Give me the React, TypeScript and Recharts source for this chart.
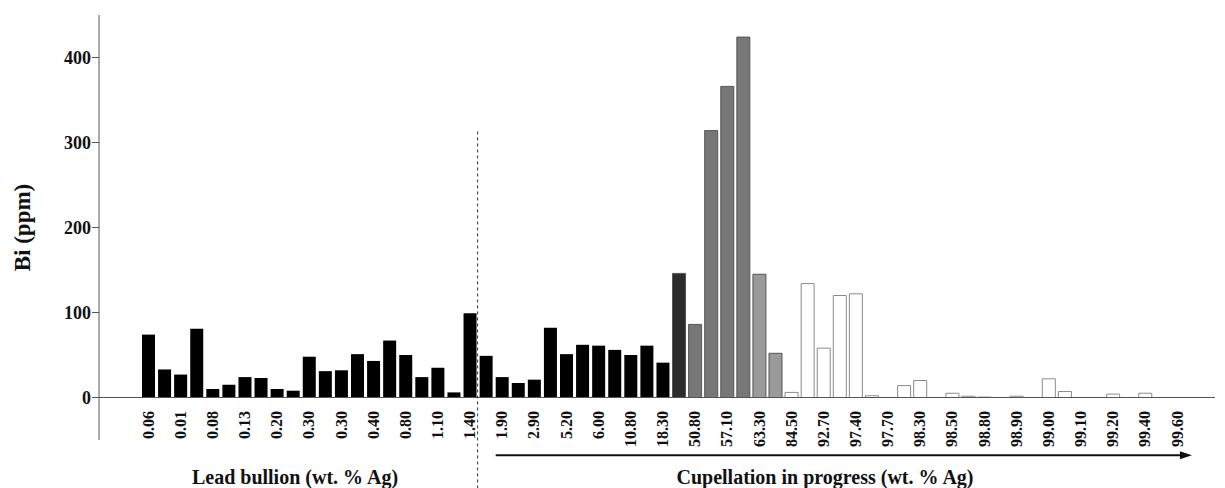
import { Bar, BarChart, Cell, Label, ReferenceLine, XAxis, YAxis } from 'recharts';

// Bi (ppm) per sample, in sample order
const bi = [
  74, 33, 27, 81, 10, 15, 24, 23, 10, 8, 48, 31, 32, 51, 43, 67, 50, 24, 35, 6,
  99, 49, 24, 17, 21, 82, 51, 62, 61, 56, 50, 61, 41, 146, 86, 314, 366, 424, 145, 52,
  6, 134, 58, 120, 122, 2, 0, 14, 20, 0, 5, 1.5, 0.5, 0, 1.5, 0, 22, 7, 0, 0,
  4, 0, 5, 0, 0,
];

// Ag (wt. %) labels, shown on every other sample
const agLabels = [
  '0.06', '0.01', '0.08', '0.13', '0.20', '0.30', '0.30', '0.40', '0.80', '1.10', '1.40',
  '1.90', '2.90', '5.20', '6.00', '10.80', '18.30', '50.80', '57.10', '63.30', '84.50',
  '92.70', '97.40', '97.70', '98.30', '98.50', '98.80', '98.90', '99.00', '99.10', '99.20',
  '99.40', '99.60',
];

const yTicks = [0, 100, 200, 300, 400];

const data = bi.map((v, i) => ({ idx: i, bi: v }));

const FONT = '"Liberation Serif", "DejaVu Serif", serif';

function barFill(i: number) {
  if (i < 33) return '#000000';
  if (i === 33) return '#2c2c2c';
  if (i < 38) return '#777777';
  if (i < 40) return '#9a9a9a';
  return '#ffffff';
}

function barStroke(i: number) {
  if (i < 33) return 'none';
  if (i < 40) return '#555555';
  return '#8a8a8a';
}

function AgTick({ x, y, payload }: any) {
  const label = agLabels[payload.value / 2] ?? '';
  return (
    <text
      transform={`translate(${x},${y - 29}) rotate(-90)`}
      textAnchor="end"
      dy="0.35em"
      fontFamily={FONT}
      fontWeight="bold"
      fontSize={16}
      fill="#111"
    >
      {label}
    </text>
  );
}

function Arrow({ x1, y1, x2 }: any) {
  const end = x2 + 23;
  return (
    <g>
      <line x1={x1 + 2} y1={y1} x2={end - 8} y2={y1} stroke="#111" strokeWidth={2} />
      <polygon points={`${end},${y1} ${end - 12},${y1 - 4} ${end - 12},${y1 + 4}`} fill="#111" />
    </g>
  );
}

const titleStyle: React.CSSProperties = {
  position: 'absolute',
  top: 466,
  transform: 'translateX(-50%)',
  fontFamily: FONT,
  fontWeight: 'bold',
  fontSize: 20,
  color: '#111',
  whiteSpace: 'nowrap',
};

export default function App() {
  return (
    <div style={{ position: 'relative', width: 1225, height: 488, background: '#fff' }}>
      <style>{'body{margin:0}'}</style>
      <BarChart
        width={1225}
        height={488}
        data={data}
        margin={{ top: 15, right: 10, left: 0, bottom: 0 }}
        barSize={13}
      >
        <XAxis
          dataKey="idx"
          interval={1}
          axisLine={false}
          tickLine={false}
          tickSize={0}
          tickMargin={0}
          height={48}
          padding={{ left: 41, right: 30 }}
          tick={<AgTick />}
        />
        <YAxis
          width={99}
          domain={[-50, 450]}
          ticks={yTicks}
          stroke="#555"
          tickSize={7}
          tickMargin={1}
          tick={{ fontFamily: FONT, fontWeight: 'bold', fontSize: 18, fill: '#111' }}
        >
          <Label
            value="Bi (ppm)"
            angle={-90}
            position="insideLeft"
            offset={22}
            style={{ textAnchor: 'middle', fontFamily: FONT, fontWeight: 'bold', fontSize: 23, fill: '#111' }}
          />
        </YAxis>
        <ReferenceLine y={0} stroke="#555" strokeWidth={1} />
        <Bar dataKey="bi" isAnimationActive={false}>
          {data.map((d) => (
            <Cell key={d.idx} fill={barFill(d.idx)} stroke={barStroke(d.idx)} strokeWidth={1} />
          ))}
        </Bar>
        <ReferenceLine
          segment={[{ x: 20, y: 313 }, { x: 20, y: -110 }]}
          position="end"
          ifOverflow="visible"
          stroke="#333"
          strokeDasharray="3 3"
        />
        <ReferenceLine
          segment={[{ x: 22, y: -68 }, { x: 64, y: -68 }]}
          position="start"
          ifOverflow="visible"
          shape={<Arrow />}
        />
      </BarChart>
      <div style={{ ...titleStyle, left: 295 }}>Lead bullion (wt. % Ag)</div>
      <div style={{ ...titleStyle, left: 825 }}>Cupellation in progress (wt. % Ag)</div>
    </div>
  );
}
